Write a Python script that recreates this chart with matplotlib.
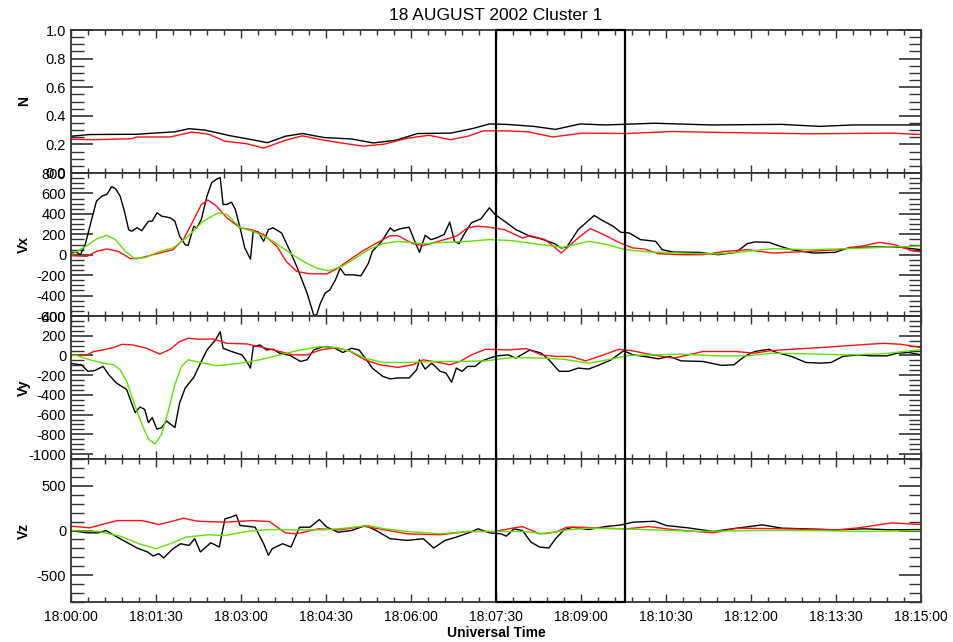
import numpy as np
import matplotlib
matplotlib.use('Agg')
import matplotlib.pyplot as plt
from matplotlib.ticker import MultipleLocator, FuncFormatter
from matplotlib.transforms import blended_transform_factory
from matplotlib.patches import Rectangle

plt.rcParams['font.family'] = ['Liberation Sans', 'DejaVu Sans']

# time in seconds after 18:00:00
title = '18 AUGUST 2002 Cluster 1'
panel_labels = ['N', 'Vx', 'Vy', 'Vz']
box_t = (450, 587)

# --- N ---
n_blk_t = [0, 20, 70, 81, 110, 125, 142, 169, 186, 208, 227, 245, 268, 297, 320, 344, 367, 402,
           426, 443, 461, 490, 513, 539, 566, 618, 677, 752, 793, 828, 900]
n_blk = [0.257, 0.269, 0.271, 0.276, 0.288, 0.31, 0.30, 0.26, 0.24, 0.212, 0.257, 0.276, 0.248,
         0.238, 0.21, 0.229, 0.276, 0.279, 0.312, 0.343, 0.34, 0.326, 0.305, 0.343, 0.336, 0.348,
         0.336, 0.34, 0.326, 0.336, 0.336]
n_red_t = [0, 26, 64, 70, 105, 128, 146, 163, 186, 204, 227, 245, 268, 286, 309, 332, 356, 379,
           402, 420, 437, 461, 484, 510, 542, 589, 636, 694, 782, 869, 900]
n_red = [0.236, 0.233, 0.24, 0.252, 0.252, 0.286, 0.271, 0.222, 0.205, 0.174, 0.229, 0.26, 0.229,
         0.21, 0.188, 0.202, 0.243, 0.264, 0.233, 0.257, 0.295, 0.295, 0.288, 0.252, 0.279, 0.276,
         0.29, 0.283, 0.274, 0.279, 0.269]

# --- Vx ---
vx_blk_t = [0, 6, 10, 15, 20, 27, 33, 38, 43, 47, 52, 57, 61, 64, 70, 75, 82, 86, 91, 96, 105,
            110, 115, 121, 124, 130, 133, 138, 144, 149, 154, 158, 161, 165, 170, 174, 179, 184,
            190, 193, 198, 204, 209, 214, 223, 232, 239, 250, 257, 260, 264, 269, 274, 280, 285,
            290, 299, 307, 315, 319, 329, 338, 342, 348, 358, 364, 369, 375, 381, 387, 395, 401,
            406, 411, 416, 424, 434, 443, 449, 459, 471, 486, 498, 512, 519, 525, 537, 554, 564,
            574, 582, 591, 603, 619, 626, 638, 665, 685, 704, 716, 724, 739, 751, 763, 786, 809,
            825, 856, 879, 900]
vx_blk = [20, 23, 0, 98, 279, 525, 575, 591, 666, 647, 575, 410, 246, 230, 263, 236, 328, 328,
          410, 378, 361, 328, 181, 98, 90, 279, 260, 345, 575, 706, 739, 755, 492, 492, 515, 443,
          263, 66, -43, 230, 225, 131, 246, 263, 213, 33, -115, -377, -591, -591, -476, -377,
          -345, -246, -131, -197, -197, -207, -82, 33, 131, 263, 230, 253, 269, 131, 23, 190,
          148, 164, 197, 319, 131, 108, 197, 312, 351, 459, 394, 328, 246, 181, 154, 108, 66, 75,
          246, 384, 328, 279, 220, 213, 148, 131, 49, 26, 23, 0, 23, 108, 125, 121, 82, 49, 16,
          23, 72, 76, 72, 49]
vx_red_t = [0, 17, 27, 38, 50, 63, 73, 91, 108, 119, 130, 138, 145, 154, 165, 179, 191, 204, 218,
            228, 239, 253, 271, 281, 295, 311, 327, 338, 346, 362, 373, 389, 408, 420, 430, 443,
            459, 478, 486, 502, 513, 519, 529, 539, 550, 564, 580, 595, 607, 622, 646, 669, 693,
            716, 743, 782, 813, 840, 856, 872, 891, 900]
vx_red = [-10, -16, 33, 56, 33, -39, -33, 10, 49, 148, 345, 492, 535, 476, 361, 263, 246, 197, 82,
          -66, -164, -187, -187, -141, -49, 49, 131, 187, 187, 108, 89, 131, 181, 263, 279, 269,
          246, 164, 187, 148, 66, 16, 98, 181, 256, 197, 121, 66, 56, 10, 0, 0, 33, 49, 16, 33,
          49, 89, 121, 98, 39, 26]
vx_grn_t = [0, 17, 27, 38, 47, 57, 68, 80, 94, 108, 122, 140, 156, 165, 179, 197, 214, 232, 246,
            260, 273, 288, 300, 315, 330, 346, 373, 397, 420, 443, 467, 490, 521, 548, 568, 587,
            615, 646, 685, 716, 743, 782, 821, 860, 891, 900]
vx_grn = [0, 89, 154, 190, 148, 39, -43, -23, 33, 66, 164, 328, 410, 394, 269, 213, 131, 16, -66,
          -131, -158, -108, -40, 49, 108, 131, 108, 121, 131, 148, 138, 108, 72, 131, 98, 49, 26,
          16, 7, 33, 59, 49, 59, 72, 82, 85]

# --- Vy ---
vy_blk_t = [0, 4, 11, 18, 25, 34, 40, 48, 59, 64, 68, 73, 78, 82, 86, 91, 96, 101, 110, 115, 121,
            130, 138, 144, 153, 158, 161, 170, 181, 186, 190, 193, 200, 207, 214, 221, 232, 243,
            250, 257, 267, 278, 288, 297, 305, 313, 319, 330, 338, 346, 358, 366, 369, 375, 382,
            391, 397, 403, 408, 414, 420, 428, 434, 443, 451, 463, 471, 486, 498, 506, 517, 527,
            537, 548, 560, 572, 585, 595, 607, 622, 634, 646, 669, 689, 702, 714, 724, 739, 747,
            763, 778, 794, 805, 817, 833, 848, 864, 875, 887, 900]
vy_blk = [-80, -87, -94, -161, -154, -111, -195, -279, -346, -480, -580, -523, -547, -681, -630,
          -748, -731, -664, -731, -480, -329, -222, -61, 56, 157, 241, 73, 40, 6, -61, -128, 90,
          106, 56, 63, 23, 0, -61, -44, 56, 90, 80, 30, 73, 56, -45, -128, -212, -238, -228, -228,
          -145, -44, -138, -78, -161, -178, -272, -128, -161, -111, -111, -61, -27, -4, 6, -27, 56,
          23, -44, -161, -161, -128, -138, -94, -44, 47, 6, -10, -34, -10, -55, -61, -101, -94,
          -4, 40, 63, 30, -10, -71, -78, -71, -10, 6, -4, -4, 23, 30, 6]
vy_red_t = [0, 17, 24, 34, 45, 54, 66, 80, 94, 105, 115, 124, 137, 151, 165, 186, 207, 221, 235,
            250, 264, 281, 295, 311, 327, 346, 362, 373, 389, 401, 412, 424, 439, 463, 482, 498,
            513, 529, 545, 564, 580, 595, 615, 638, 654, 669, 704, 724, 739, 763, 794, 833, 860,
            879, 900]
vy_red = [0, 6, 40, 56, 80, 113, 106, 73, 13, 63, 140, 174, 164, 167, 123, 117, 73, 40, 6, 6, 56,
          80, 45, -44, -94, -121, -94, -44, -71, -94, -61, 6, 63, 56, 70, 6, -10, -10, -55, 6, 63,
          47, 6, -27, 6, 40, 40, 23, 47, 63, 80, 106, 123, 113, 80]
vy_grn_t = [0, 6, 20, 34, 45, 52, 59, 66, 75, 82, 89, 96, 103, 110, 117, 124, 137, 154, 175, 200,
            221, 243, 264, 281, 297, 311, 330, 358, 385, 412, 439, 467, 498, 521, 548, 568, 591,
            619, 646, 685, 716, 743, 782, 821, 860, 891, 900]
vy_grn = [0, 0, -44, -78, -94, -145, -262, -463, -697, -848, -898, -798, -564, -295, -111, -44,
          -71, -104, -84, -44, 6, 56, 90, 80, 40, -27, -71, -71, -61, -61, -55, -21, -27, -38, -78,
          -44, 0, 6, 13, -4, -4, 23, 16, 6, 16, 50, 55]

# --- Vz ---
vz_blk_t = [0, 17, 29, 37, 52, 70, 81, 87, 93, 98, 108, 116, 125, 131, 137, 148, 157, 163, 169,
            175, 179, 195, 204, 209, 213, 224, 233, 242, 253, 263, 271, 283, 297, 312, 323, 338,
            356, 373, 384, 396, 408, 423, 431, 443, 455, 461, 469, 478, 487, 496, 506, 513, 522,
            531, 548, 566, 583, 595, 618, 630, 653, 680, 700, 732, 753, 776, 811, 840, 869, 900]
vz_blk = [0, -26, -26, 0, -92, -196, -240, -285, -259, -307, -204, -148, -167, -92, -240, -137,
          -185, 130, 148, 174, 56, 37, -148, -278, -204, -148, -185, 37, 37, 122, 37, -19, 0, 56,
          0, -92, -111, -92, -196, -111, -74, -19, 19, -26, -37, -63, 19, 0, -130, -185, -196,
          -92, 7, 37, 11, 44, 63, 93, 104, 56, 30, -11, 19, 63, 26, 19, 7, 19, 7, 11]
vz_red_t = [0, 20, 35, 49, 75, 93, 110, 119, 134, 163, 192, 210, 227, 239, 262, 286, 309, 326,
            356, 391, 420, 449, 467, 478, 496, 513, 525, 542, 560, 589, 612, 636, 680, 706, 753,
            811, 834, 869, 900]
vz_red = [48, 30, 74, 111, 111, 67, 111, 137, 104, 93, 111, 100, -26, -37, 19, 7, 48, 19, -37,
          -48, -11, -11, 26, 44, -37, -19, 37, 37, 26, 19, 44, 11, -26, 26, 19, 7, 30, 85, 67]
vz_grn_t = [0, 29, 52, 72, 90, 105, 122, 145, 163, 186, 210, 239, 268, 291, 315, 332, 356, 391,
            420, 455, 478, 502, 525, 548, 583, 607, 665, 723, 782, 840, 900]
vz_grn = [0, -11, -63, -148, -204, -148, -74, -48, -56, -11, 11, 7, 7, 26, 56, 19, -11, -37, -11,
          -11, -11, -37, 7, 26, 19, 11, -11, 0, 0, -11, 0]

blk, red, grn = 'black', '#ff1010', '#5fe000'
panels = [
    [(n_blk_t, n_blk, blk), (n_red_t, n_red, red)],
    [(vx_blk_t, vx_blk, blk), (vx_red_t, vx_red, red), (vx_grn_t, vx_grn, grn)],
    [(vy_blk_t, vy_blk, blk), (vy_red_t, vy_red, red), (vy_grn_t, vy_grn, grn)],
    [(vz_blk_t, vz_blk, blk), (vz_red_t, vz_red, red), (vz_grn_t, vz_grn, grn)],
]
ylims = [(0, 1.0), (-600, 800), (-1050, 400), (-800, 800)]
ymajor = [0.2, 200, 200, 500]
yminor = [0.05, 50, 50, 100]

W, H = 954, 642
fig = plt.figure(figsize=(W / 100, H / 100), dpi=100)
left, right = 71 / W, 921 / W
top_px, bot_px = 30, 602
ph = (bot_px - top_px) / 4

axes = []
for i in range(4):
    y0 = 1 - (top_px + (i + 1) * ph) / H
    ax = fig.add_axes([left, y0, right - left, ph / H])
    for (t, v, c) in panels[i]:
        ax.plot(t, v, color=c, lw=1.0)
    ax.set_xlim(0, 900)
    ax.set_ylim(*ylims[i])
    ax.xaxis.set_major_locator(MultipleLocator(90))
    ax.xaxis.set_minor_locator(MultipleLocator(18))
    ax.yaxis.set_major_locator(MultipleLocator(ymajor[i]))
    ax.yaxis.set_minor_locator(MultipleLocator(yminor[i]))
    ax.tick_params(axis='both', which='both', direction='in', top=True, right=True,
                   color='#333333')
    ax.tick_params(axis='y', which='major', length=16, width=1.2, labelsize=10.5)
    ax.tick_params(axis='y', which='minor', length=9, width=1.0)
    ax.tick_params(axis='x', which='major', length=6, width=1.0)
    ax.tick_params(axis='x', which='minor', length=3.5, width=1.0)
    for s in ax.spines.values():
        s.set_linewidth(1.3)
        s.set_color('#333333')
    if i == 0:
        ax.yaxis.set_major_formatter(FuncFormatter(lambda v, p: f'{v:.1f}'))
    else:
        ax.yaxis.set_major_formatter(FuncFormatter(lambda v, p: f'{v:.0f}'))
    ax.set_ylabel(panel_labels[i], fontsize=10, fontweight='bold')
    ax.yaxis.set_label_coords(-0.047, 0.5)
    if i < 3:
        ax.tick_params(axis='x', labelbottom=False)
    axes.append(ax)

axes[-1].xaxis.set_major_formatter(
    FuncFormatter(lambda s, p: f'18:{int(s) // 60:02d}:{int(s) % 60:02d}'))
axes[-1].tick_params(axis='x', labelsize=10, pad=6)
axes[-1].set_xlabel('Universal Time', fontsize=10, fontweight='bold', labelpad=1)

fig.text(0.5 * (left + right), 1 - 15 / H, title, ha='center', va='center', fontsize=12.5)

# highlighted interval across all panels
tr = blended_transform_factory(axes[0].transData, fig.transFigure)
fig.patches.append(Rectangle((box_t[0], 1 - bot_px / H), box_t[1] - box_t[0],
                             (bot_px - top_px) / H, transform=tr, fill=False,
                             ec='black', lw=1.6, zorder=10))

fig.savefig('out.png', dpi=100)
